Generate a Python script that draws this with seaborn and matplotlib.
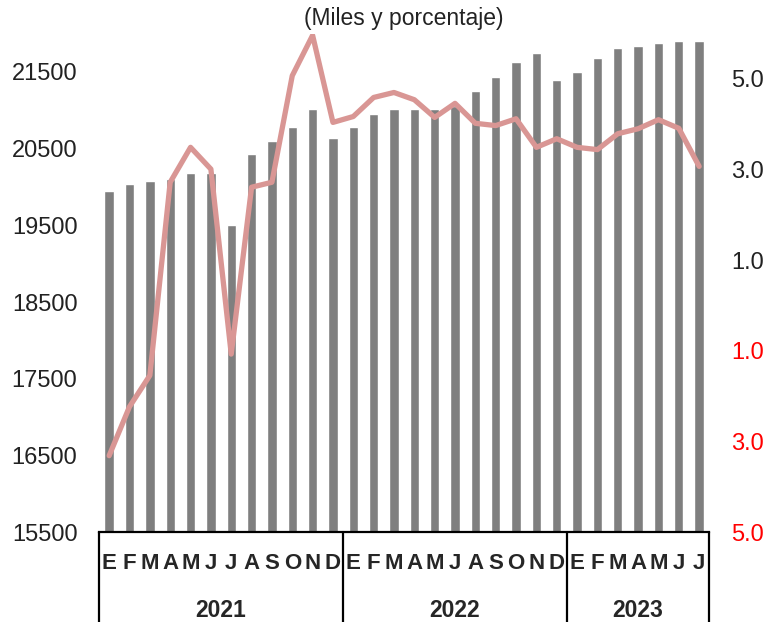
import matplotlib

matplotlib.use("Agg")

import matplotlib.pyplot as plt
import matplotlib.transforms as mtransforms
import numpy as np
import pandas as pd
import seaborn as sns

# month initials per year (2022 has no July in the source)
months_2021 = ["E", "F", "M", "A", "M", "J", "J", "A", "S", "O", "N", "D"]
months_2022 = ["E", "F", "M", "A", "M", "J", "A", "S", "O", "N", "D"]
months_2023 = ["E", "F", "M", "A", "M", "J", "J"]
years = ["2021", "2022", "2023"]

# employment, thousands (left axis)
empleo = [19944, 20035, 20078, 20110, 20183, 20183, 19500, 20431, 20605, 20783,
          21010, 20635, 20779, 20957, 21013, 21022, 21022, 21050, 21252, 21427,
          21635, 21740, 21392, 21505, 21679, 21809, 21835, 21878, 21904, 21904]

# annual change, percent (right axis)
variacion = [-3.31, -2.23, -1.54, 2.72, 3.49, 3.01, -1.07, 2.61, 2.72, 5.07,
             5.96, 4.04, 4.17, 4.59, 4.70, 4.54, 4.15, 4.46, 4.02, 3.97,
             4.12, 3.49, 3.68, 3.49, 3.44, 3.79, 3.90, 4.10, 3.91, 3.07]

left_ticks = [15500, 16500, 17500, 18500, 19500, 20500, 21500]
right_ticks = [5, 3, 1, -1, -3, -5]

sns.set_style("white")
plt.rcParams["font.family"] = ["Liberation Sans", "DejaVu Sans"]

month_labels = months_2021 + months_2022 + months_2023
df = pd.DataFrame({"pos": np.arange(len(empleo)), "empleo": empleo, "variacion": variacion})

fig = plt.figure(figsize=(7.77, 6.22), dpi=100)
ax = fig.add_axes([0.1274, 0.1442, 0.7855, 0.8019])

sns.barplot(data=df, x="pos", y="empleo", color="#7f7f7f", saturation=1,
            width=0.46, ax=ax)
ax.set_ylim(15500, 22000)
ax.set_xlim(-0.5, len(empleo) - 0.5)
ax.set_yticks(left_ticks)
ax.set_xticks([])
ax.set_xlabel("")
ax.set_ylabel("")
ax.tick_params(axis="y", length=0, pad=15.5, labelsize=17, labelcolor="#222222")
for side in ["left", "right", "top"]:
    ax.spines[side].set_visible(False)
ax.spines["bottom"].set_color("black")
ax.spines["bottom"].set_linewidth(1.6)

ax2 = ax.twinx()
sns.lineplot(data=df, x="pos", y="variacion", color="#d99694", linewidth=3.8, ax=ax2)
ax2.set_ylim(-5, 6)
ax2.set_yticks(right_ticks)
ax2.set_yticklabels([f"{abs(t):.1f}" for t in right_ticks])
for lbl, t in zip(ax2.get_yticklabels(), right_ticks):
    lbl.set_color("red" if t < 0 else "#222222")
ax2.tick_params(axis="y", length=0, pad=15.5, labelsize=17)
ax2.set_ylabel("")
ax2.set_xlabel("")
for side in ["left", "right", "top", "bottom"]:
    ax2.spines[side].set_visible(False)

# category axis drawn as a table of months and years
trans = mtransforms.blended_transform_factory(ax.transData, ax.transAxes)
for i, m in enumerate(month_labels):
    ax.text(i, -0.062, m, transform=trans, ha="center", va="center",
            fontsize=16, fontweight="bold")

counts = [len(months_2021), len(months_2022), len(months_2023)]
start = 0
bounds = [-0.5]
for year, n in zip(years, counts):
    ax.text(start + (n - 1) / 2, -0.156, year, transform=trans, ha="center",
            va="center", fontsize=16.5, fontweight="bold")
    start += n
    bounds.append(start - 0.5)
for b in bounds:
    ax.plot([b, b], [0, -0.25], transform=trans, color="black", lw=1.6, clip_on=False)

fig.text(0.52, 0.971, "(Miles y porcentaje)", ha="center", va="center",
         fontsize=16.5, color="#222222")

fig.savefig("out.png", dpi=100)
